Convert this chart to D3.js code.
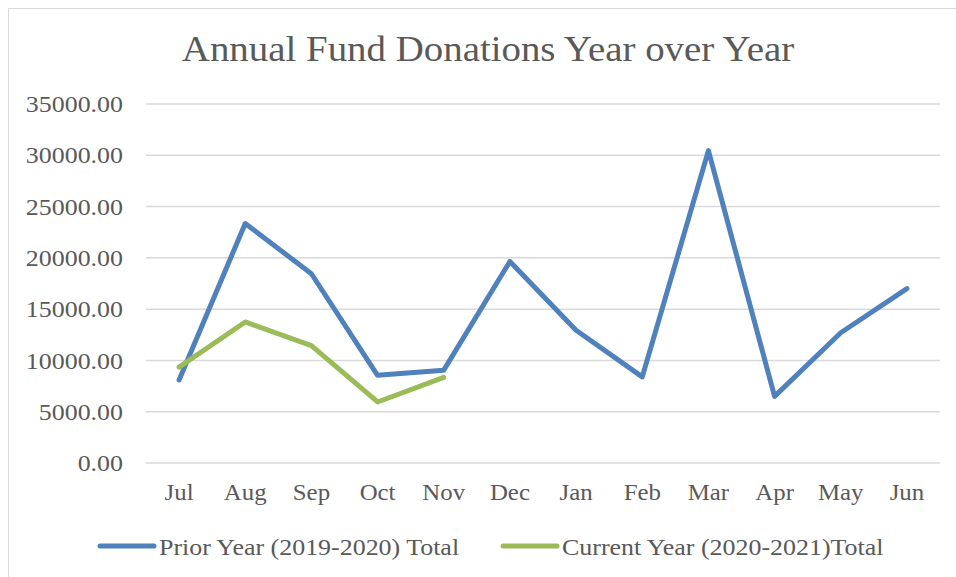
<!DOCTYPE html>
<html>
<head>
<meta charset="utf-8">
<script src="https://cdn.jsdelivr.net/npm/d3@7"></script>
<style>
  body { margin: 0; background: #fff; }
  text { font-family: "Liberation Serif", serif; fill: #595959; }
</style>
</head>
<body>
<script>
// data
var months = ["Jul", "Aug", "Sep", "Oct", "Nov", "Dec", "Jan", "Feb", "Mar", "Apr", "May", "Jun"];
var priorYear = [8100, 23350, 18450, 8550, 9050, 19650, 12950, 8400, 30450, 6500, 12700, 17000];
var currentYear = [9350, 13750, 11450, 5950, 8350];
var yTicks = [0, 5000, 10000, 15000, 20000, 25000, 30000, 35000];
var seriesNames = ["Prior Year (2019-2020) Total", "Current Year (2020-2021)Total"];
var colors = ["#4F81BD", "#9BBB59"];

var width = 956, height = 577;

var svg = d3.select("body").append("svg")
  .attr("width", width)
  .attr("height", height);

// the original font is a bit wider than Liberation Serif, so widen the text a little
function widen(sel) {
  sel.each(function() {
    var len = this.getComputedTextLength();
    d3.select(this).attr("textLength", len * 1.08).attr("lengthAdjust", "spacingAndGlyphs");
  });
}

// chart border
svg.append("rect")
  .attr("x", 8.5).attr("y", 8.5)
  .attr("width", 1000).attr("height", 1000)
  .attr("fill", "none")
  .attr("stroke", "#D9D9D9");

svg.append("text")
  .attr("x", 488).attr("y", 61)
  .attr("text-anchor", "middle")
  .style("font-size", "36px")
  .text("Annual Fund Donations Year over Year")
  .call(widen);

var x = d3.scaleBand().domain(months).range([146, 940]);
var y = d3.scaleLinear().domain([0, 35000]).range([463, 104]);

// gridlines
svg.append("g")
  .selectAll("line")
  .data(yTicks)
  .enter().append("line")
  .attr("x1", 146).attr("x2", 940)
  .attr("y1", d => y(d)).attr("y2", d => y(d))
  .attr("stroke", "#D9D9D9")
  .attr("stroke-width", 1.5);

var yAxis = svg.append("g")
  .attr("transform", "translate(123,0)")
  .call(d3.axisLeft(y).tickValues(yTicks).tickFormat(d3.format(".2f")).tickSize(0).tickPadding(0));
yAxis.select(".domain").remove();
yAxis.selectAll("text").style("font-size", "24px").attr("fill", "#595959").call(widen);

var xAxis = svg.append("g")
  .attr("transform", "translate(0,484)")
  .call(d3.axisBottom(x).tickSize(0).tickPadding(0));
xAxis.select(".domain").remove();
xAxis.selectAll("text").style("font-size", "23px").attr("fill", "#595959").call(widen);

var line = d3.line()
  .x((d, i) => x(months[i]) + x.bandwidth() / 2)
  .y(d => y(d));

[priorYear, currentYear].forEach((s, i) => {
  svg.append("path")
    .datum(s)
    .attr("d", line)
    .attr("fill", "none")
    .attr("stroke", colors[i])
    .attr("stroke-width", 5)
    .attr("stroke-linecap", "round")
    .attr("stroke-linejoin", "round");
});

// legend
var legendX = [100, 503];
seriesNames.forEach((name, i) => {
  svg.append("line")
    .attr("x1", legendX[i]).attr("x2", legendX[i] + 54)
    .attr("y1", 546).attr("y2", 546)
    .attr("stroke", colors[i])
    .attr("stroke-width", 5)
    .attr("stroke-linecap", "round");
  svg.append("text")
    .attr("x", legendX[i] + 59).attr("y", 555)
    .style("font-size", "24px")
    .text(name)
    .call(widen);
});
</script>
</body>
</html>
